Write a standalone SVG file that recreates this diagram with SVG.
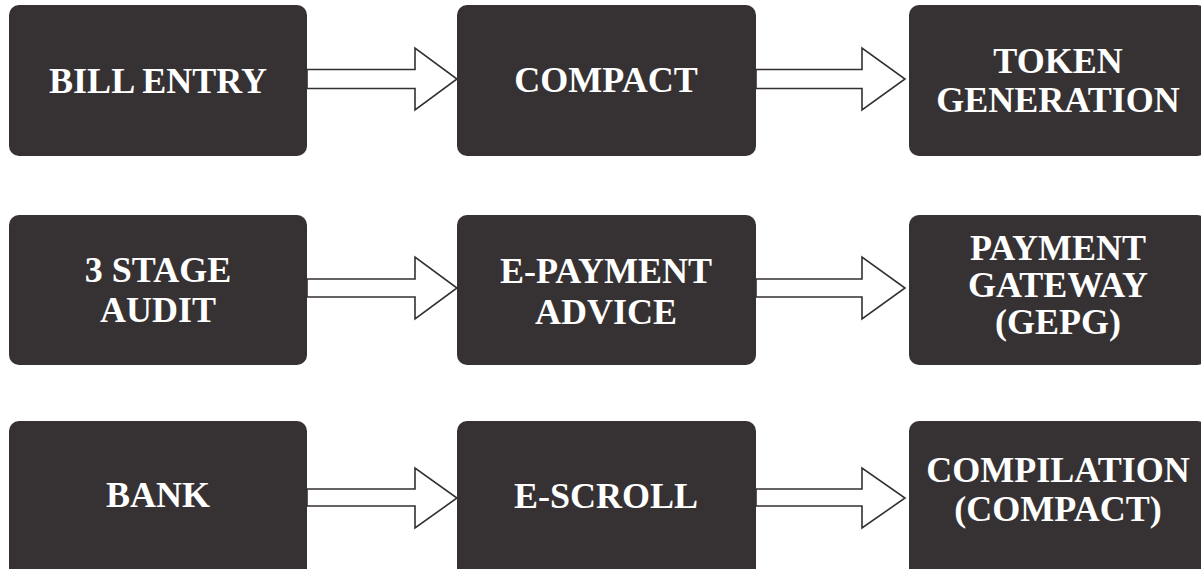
<svg xmlns="http://www.w3.org/2000/svg" width="1201" height="569" viewBox="0 0 1201 569">
<style>
.box{fill:#363233;}
.lbl{fill:#ffffff;font-family:"Liberation Serif","Times New Roman",serif;font-weight:bold;font-size:36px;text-anchor:middle;}
.arr{fill:#ffffff;stroke:#333031;stroke-width:1.6;stroke-linejoin:miter;}
</style>
<rect width="1201" height="569" fill="#ffffff"/>
<g id="connectors">
<polygon class="arr" points="307,69.5 415,69.5 415,48 457,79 415,110 415,88.5 307,88.5"/>
<polygon class="arr" points="756,69.5 862,69.5 862,48 905,79 862,110 862,88.5 756,88.5"/>
<polygon class="arr" points="307,279 415,279 415,257 457,288 415,319 415,297 307,297"/>
<polygon class="arr" points="756,279 862,279 862,257 905,288 862,319 862,297 756,297"/>
<polygon class="arr" points="307,489 415,489 415,468 457,498 415,528 415,506 307,506"/>
<polygon class="arr" points="756,489 862,489 862,468 905,498 862,528 862,506 756,506"/>
</g>
<g id="node-bill-entry"><rect class="box" x="9" y="5" width="298" height="151" rx="10"/><text class="lbl" x="158" y="93">BILL ENTRY</text></g>
<g id="node-compact"><rect class="box" x="457" y="5" width="299" height="151" rx="10"/><text class="lbl" x="606" y="92">COMPACT</text></g>
<g id="node-token-generation"><rect class="box" x="909" y="5" width="298" height="151" rx="10"/><text class="lbl" x="1058" y="73">TOKEN</text><text class="lbl" x="1058" y="112">GENERATION</text></g>
<g id="node-3-stage-audit"><rect class="box" x="9" y="215" width="298" height="150" rx="10"/><text class="lbl" x="158" y="282">3 STAGE</text><text class="lbl" x="158" y="322">AUDIT</text></g>
<g id="node-e-payment-advice"><rect class="box" x="457" y="215" width="299" height="150" rx="10"/><text class="lbl" x="606" y="283">E-PAYMENT</text><text class="lbl" x="606" y="324">ADVICE</text></g>
<g id="node-payment-gateway"><rect class="box" x="909" y="215" width="298" height="150" rx="10"/><text class="lbl" x="1058" y="260">PAYMENT</text><text class="lbl" x="1058" y="297">GATEWAY</text><text class="lbl" x="1058" y="334">(GEPG)</text></g>
<g id="node-bank"><rect class="box" x="9" y="421" width="298" height="160" rx="10"/><text class="lbl" x="158" y="507">BANK</text></g>
<g id="node-e-scroll"><rect class="box" x="457" y="421" width="299" height="160" rx="10"/><text class="lbl" x="606" y="508">E-SCROLL</text></g>
<g id="node-compilation"><rect class="box" x="909" y="421" width="298" height="160" rx="10"/><text class="lbl" x="1058" y="482">COMPILATION</text><text class="lbl" x="1058" y="521">(COMPACT)</text></g>
</svg>
